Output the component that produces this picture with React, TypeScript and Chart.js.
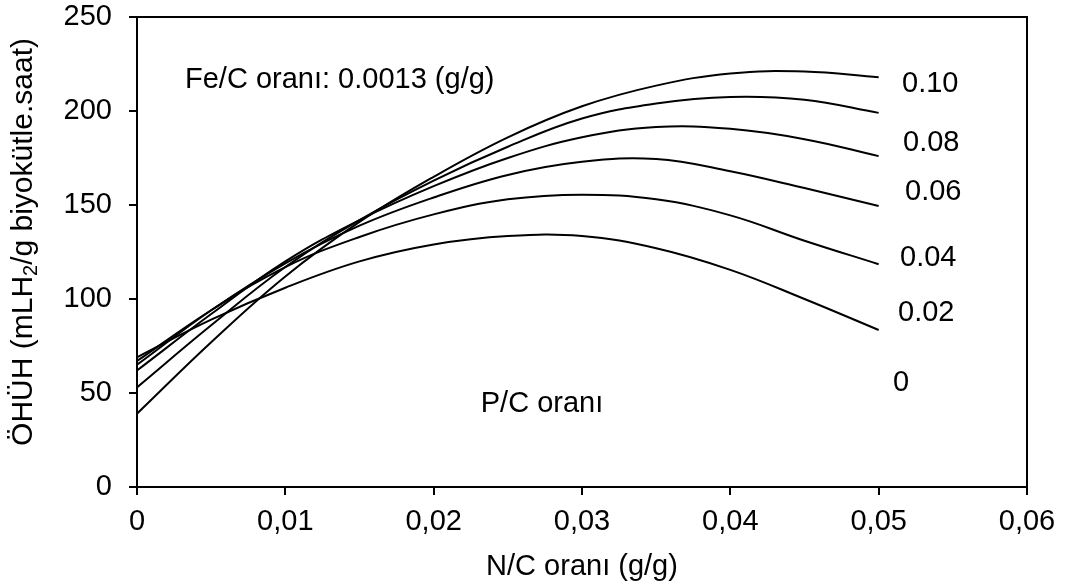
import React, { useEffect, useRef } from "react";
import { Chart, registerables } from "chart.js";

Chart.register(...registerables);

// N/C ratio (g/g)
const nc = [0, 0.005, 0.01, 0.015, 0.02, 0.025, 0.03, 0.035, 0.04, 0.045, 0.05];

// ÖHÜH values for each P/C ratio
const pc010 = [39, 77, 112, 141, 165, 186, 202.5, 213.5, 220, 221, 218];
const pc008 = [53, 86, 117, 142, 163, 181, 196, 204, 207.5, 206, 199];
const pc006 = [62, 92, 120, 142, 160, 175, 186, 191.5, 190.5, 185, 176];
const pc004 = [65, 94, 119, 139, 154, 166, 173, 174.5, 168, 159, 149.5];
const pc002 = [67, 94, 117, 133, 145, 153, 155.5, 153, 144.5, 131, 118.5];
const pc000 = [69, 89, 106, 120, 129, 133.5, 133.5, 127, 115.5, 100, 83.5];

const series = [pc010, pc008, pc006, pc004, pc002, pc000];
const seriesNames = ["0.10", "0.08", "0.06", "0.04", "0.02", "0"];

const yTicks = [0, 50, 100, 150, 200, 250];
const xTitle = "N/C oranı (g/g)";
const feText = "Fe/C oranı: 0.0013 (g/g)";
const pcText = "P/C oranı";

const FONT = '"Liberation Sans", Arial, sans-serif';
const FS = 29;

// label anchor positions (layout only)
const labelPos = [
  [902, 84],
  [903, 143],
  [905, 192],
  [900, 258],
  [898, 313],
  [893, 383],
];

const overlay = {
  id: "overlay",
  afterDraw(chart: any) {
    const ctx = chart.ctx;
    const { left, top, right, bottom } = chart.chartArea;
    ctx.save();
    ctx.strokeStyle = "#000";
    ctx.lineWidth = 2;
    ctx.beginPath();
    ctx.moveTo(left, top);
    ctx.lineTo(right, top);
    ctx.lineTo(right, bottom);
    ctx.stroke();

    ctx.fillStyle = "#000";
    ctx.font = `${FS}px ${FONT}`;
    ctx.textBaseline = "middle";
    ctx.textAlign = "left";
    ctx.fillText(feText, 185, 80);
    seriesNames.forEach((n, i) => {
      ctx.fillText(n, labelPos[i][0], labelPos[i][1]);
    });
    ctx.textAlign = "center";
    ctx.fillText(pcText, 542, 404);
    ctx.fillText(xTitle, (left + right) / 2, 567);

    // y title with subscript
    const fsY = 30;
    const parts: [string, boolean][] = [
      ["ÖHÜH (mLH", false],
      ["2", true],
      ["/g biyokütle.saat)", false],
    ];
    const mainFont = `${fsY}px ${FONT}`;
    const subFont = `${Math.round(fsY * 0.65)}px ${FONT}`;
    let total = 0;
    for (const [t, sub] of parts) {
      ctx.font = sub ? subFont : mainFont;
      total += ctx.measureText(t).width;
    }
    ctx.translate(24, 242);
    ctx.rotate(-Math.PI / 2);
    ctx.textAlign = "left";
    let x = -total / 2;
    for (const [t, sub] of parts) {
      ctx.font = sub ? subFont : mainFont;
      ctx.fillText(t, x, sub ? 7 : 0);
      x += ctx.measureText(t).width;
    }
    ctx.restore();
  },
};

export default function App() {
  const ref = useRef<HTMLCanvasElement>(null);
  useEffect(() => {
    document.body.style.margin = "0";
    const datasets = series.map((s, i) => ({
      label: seriesNames[i],
      data: nc.map((x, j) => ({ x, y: s[j] })),
      borderColor: "#000",
      backgroundColor: "#000",
      borderWidth: 2,
      pointRadius: 0,
      tension: 0.4,
      fill: false,
    }));
    const chart = new Chart(ref.current as HTMLCanvasElement, {
      type: "line",
      data: { datasets },
      plugins: [overlay],
      options: {
        animation: false,
        responsive: false,
        layout: { padding: { left: 0, top: 17, right: 41, bottom: 0 } },
        plugins: { legend: { display: false }, tooltip: { enabled: false } },
        scales: {
          x: {
            type: "linear",
            min: 0,
            max: 0.06,
            border: { display: true, color: "#000", width: 2 },
            grid: {
              display: true,
              drawOnChartArea: false,
              drawTicks: true,
              tickLength: 8,
              color: "#000",
              lineWidth: 2,
            },
            ticks: {
              stepSize: 0.01,
              color: "#000",
              padding: 10,
              maxRotation: 0,
              font: { family: FONT, size: FS },
              callback: (v: any) => {
                const n = Number(v);
                if (Math.abs(n) < 1e-9) return "0";
                return n.toFixed(2).replace(".", ",");
              },
            },
            afterFit: (s: any) => {
              s.height = 101;
              s.paddingLeft = 0;
              s.paddingRight = 0;
            },
          },
          y: {
            min: 0,
            max: 250,
            border: { display: true, color: "#000", width: 2 },
            grid: {
              display: true,
              drawOnChartArea: false,
              drawTicks: true,
              tickLength: 8,
              color: "#000",
              lineWidth: 2,
            },
            afterBuildTicks: (s: any) => {
              s.ticks = yTicks.map((v) => ({ value: v }));
            },
            ticks: {
              color: "#000",
              padding: 17,
              font: { family: FONT, size: FS },
            },
            afterFit: (s: any) => {
              s.width = 137;
              s.paddingTop = 0;
              s.paddingBottom = 0;
            },
          },
        },
      },
    });
    return () => chart.destroy();
  }, []);
  return (
    <div style={{ width: 1068, height: 588 }}>
      <canvas ref={ref} width={1068} height={588} />
    </div>
  );
}
